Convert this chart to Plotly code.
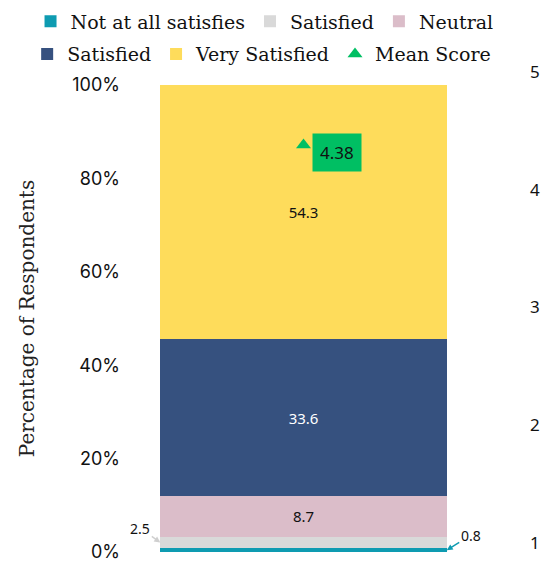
import plotly.graph_objects as go

# Survey responses, share of respondents (%), stacked bottom to top
segment_names = ["Not at all satisfies", "Satisfied", "Neutral", "Satisfied", "Very Satisfied"]
segment_values = [0.8, 2.5, 8.7, 33.6, 54.3]
segment_colors = ["#0E9BB1", "#D9D9D9", "#DBBDC9", "#36517F", "#FEDC5B"]
segment_text_colors = ["#000000", "#000000", "#111111", "#FFFFFF", "#111111"]
inside_labels = [False, False, True, True, True]
legend_rows = ["legend", "legend", "legend", "legend2", "legend2"]

mean_score = 4.38
pct_ticks = [0, 20, 40, 60, 80, 100]
pct_tick_text = ["0%", "20%", "40%", "60%", "80%", "100%"]
score_ticks = [1, 2, 3, 4, 5]

category = [0]
serif = "DejaVu Serif"
sans = "Noto Sans"

fig = go.Figure()

for name, val, col, tcol, show, lg in zip(segment_names, segment_values, segment_colors,
                                          segment_text_colors, inside_labels, legend_rows):
    fig.add_trace(go.Bar(
        x=category, y=[val], name=name, width=0.85, legend=lg,
        marker=dict(color=col, line=dict(width=0)),
        text=[f"{val}"] if show else None,
        textposition="inside", insidetextanchor="middle",
        textfont=dict(family=sans, size=15, color=tcol),
        hoverinfo="skip",
    ))

fig.add_trace(go.Scatter(
    x=category, y=[mean_score], name="Mean Score", yaxis="y2", legend="legend2",
    mode="markers",
    marker=dict(symbol="triangle-up", size=13, color="#00BF63"),
    hoverinfo="skip",
))

# Mean score label box
fig.add_annotation(
    x=0, y=mean_score, xref="x", yref="y2", text=f"{mean_score}",
    showarrow=False, xshift=33, yshift=-7,
    bgcolor="#00BF63", borderpad=7,
    font=dict(family=sans, size=17, color="#111111"),
)

# Callouts for the two thin bottom segments
gray_mid = segment_values[0] + segment_values[1] / 2
teal_mid = segment_values[0] / 2
fig.add_annotation(
    x=-0.425, y=gray_mid, xref="x", yref="y", text=f"{segment_values[1]}",
    showarrow=True, arrowhead=2, arrowsize=0.8, arrowwidth=1.5, arrowcolor="#CFCFCF",
    ax=-20, ay=-14, font=dict(family=sans, size=14, color="#111111"),
)
fig.add_annotation(
    x=0.425, y=teal_mid, xref="x", yref="y", text=f"{segment_values[0]}",
    showarrow=True, arrowhead=2, arrowsize=0.8, arrowwidth=1.5, arrowcolor="#0E9BB1",
    ax=24, ay=-15, font=dict(family=sans, size=14, color="#111111"),
)

legend_style = dict(
    orientation="h", xanchor="left", yanchor="top",
    traceorder="normal", bgcolor="rgba(0,0,0,0)",
    font=dict(family=serif, size=19, color="#111111"),
    itemwidth=30,
)

fig.update_layout(
    width=544, height=563,
    margin=dict(l=135, r=72, t=72, b=11, autoexpand=False),
    barmode="stack",
    bargap=0.15,
    paper_bgcolor="white", plot_bgcolor="rgba(0,0,0,0)",
    showlegend=True,
    legend=dict(x=-0.31, y=1.145, **legend_style),
    legend2=dict(x=-0.32, y=1.077, **legend_style),
    xaxis=dict(
        range=[-0.5, 0.5], showticklabels=False, showgrid=False, zeroline=False,
        showline=False, ticks="", anchor="y",
    ),
    yaxis=dict(
        domain=[0, 467 / 480], range=[0, 100],
        tickvals=pct_ticks, ticktext=pct_tick_text,
        showgrid=False, zeroline=False, showline=False, ticks="",
        ticklabelstandoff=14,
        tickfont=dict(family="Inter", size=18, color="#111111"),
        title=dict(text="Percentage of Respondents", standoff=32,
                   font=dict(family=serif, size=20, color="#222222")),
    ),
    yaxis2=dict(
        domain=[0, 1], range=[0.9235, 5.0], anchor="x", side="right",
        tickvals=score_ticks,
        showgrid=False, zeroline=False, showline=False, ticks="",
        ticklabelstandoff=57,
        tickfont=dict(family=sans, size=17, color="#111111"),
    ),
)

fig.write_html("out.html")
